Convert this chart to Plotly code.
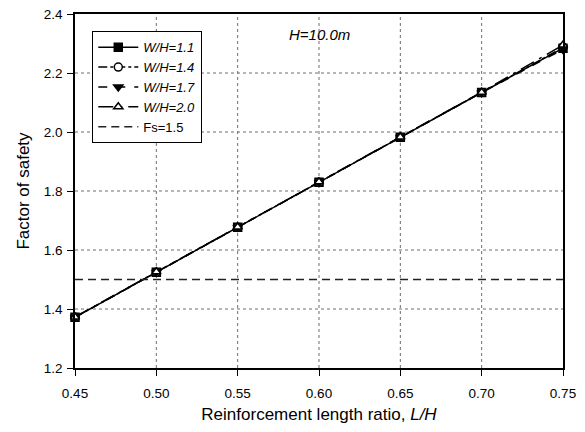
import plotly.graph_objects as go

# Reinforcement length ratio L/H
length_ratio = [0.45, 0.50, 0.55, 0.60, 0.65, 0.70, 0.75]

# Factor of safety for each width ratio W/H (H = 10.0 m)
fs_wh_11 = [1.372, 1.525, 1.677, 1.830, 1.982, 2.134, 2.284]
fs_wh_14 = [1.372, 1.525, 1.677, 1.830, 1.982, 2.134, 2.287]
fs_wh_17 = [1.372, 1.525, 1.677, 1.830, 1.982, 2.134, 2.280]
fs_wh_20 = [1.373, 1.526, 1.678, 1.831, 1.983, 2.135, 2.295]

series_names = ["<i>W/H=1.1</i>", "<i>W/H=1.4</i>", "<i>W/H=1.7</i>", "<i>W/H=2.0</i>"]
series_values = [fs_wh_11, fs_wh_14, fs_wh_17, fs_wh_20]
series_symbols = ["square", "circle", "triangle-down", "triangle-up"]
series_fills = ["black", "white", "black", "white"]
series_dashes = ["solid", "dashdot", "dash", "longdashdot"]

fs_limit = 1.5
x_ticks = [0.45, 0.50, 0.55, 0.60, 0.65, 0.70, 0.75]
y_ticks = [1.2, 1.4, 1.6, 1.8, 2.0, 2.2, 2.4]

fig = go.Figure()
for name, vals, sym, fill, dash in zip(series_names, series_values, series_symbols,
                                       series_fills, series_dashes):
    fig.add_trace(go.Scatter(
        x=length_ratio, y=vals, name=name, mode="lines+markers",
        line=dict(color="black", width=1.5, dash=dash),
        marker=dict(symbol=sym, size=8, color=fill,
                    line=dict(color="black", width=1.5)),
        cliponaxis=False,
    ))

fig.add_trace(go.Scatter(
    x=[0.45, 0.75], y=[fs_limit, fs_limit], name="Fs=1.5", mode="lines",
    line=dict(color="#222222", width=1.3, dash="8px,5px"),
))

# Dotted grid drawn at the interior tick positions
grid_line = dict(color="#6e6e6e", width=1, dash="dot")
for xv in x_ticks[1:-1]:
    fig.add_shape(type="line", xref="x", yref="paper", x0=xv, x1=xv, y0=0, y1=1,
                  line=grid_line, layer="below")
for yv in y_ticks[1:-1]:
    fig.add_shape(type="line", xref="paper", yref="y", x0=0, x1=1, y0=yv, y1=yv,
                  line=grid_line, layer="below")

fig.add_annotation(
    x=0.6, y=2.33, xref="x", yref="y", text="<i>H=10.0m</i>",
    showarrow=False, font=dict(size=15, color="black"), xanchor="center",
)

axis_common = dict(
    showline=True, linecolor="black", linewidth=1.5, mirror=True,
    ticks="outside", ticklen=6, tickcolor="black", tickwidth=1.2,
    showgrid=False, zeroline=False, automargin=False,
    tickfont=dict(size=13.5, color="black"),
)

fig.update_xaxes(
    range=[0.45, 0.75], tickvals=x_ticks, tickformat=".2f",
    ticklabelstandoff=6,
    title=dict(text="Reinforcement length ratio, <i>L/H</i>",
               font=dict(size=17, color="black"), standoff=8),
    **axis_common,
)
fig.update_yaxes(
    range=[1.2, 2.4], tickvals=y_ticks, tickformat=".1f",
    ticklabelstandoff=2,
    title=dict(text="Factor of safety", font=dict(size=17, color="black"),
               standoff=10),
    **axis_common,
)

fig.update_layout(
    width=585, height=432,
    margin=dict(l=75, r=22, t=14, b=64),
    paper_bgcolor="white", plot_bgcolor="white",
    font=dict(family="Arial, Liberation Sans, sans-serif", color="black"),
    legend=dict(
        x=0.035, y=0.952, xanchor="left", yanchor="top",
        bordercolor="black", borderwidth=1.2, bgcolor="white",
        font=dict(size=13, color="black"), tracegroupgap=0,
        itemwidth=40,
    ),
    showlegend=True,
)

fig.write_html("out.html")
